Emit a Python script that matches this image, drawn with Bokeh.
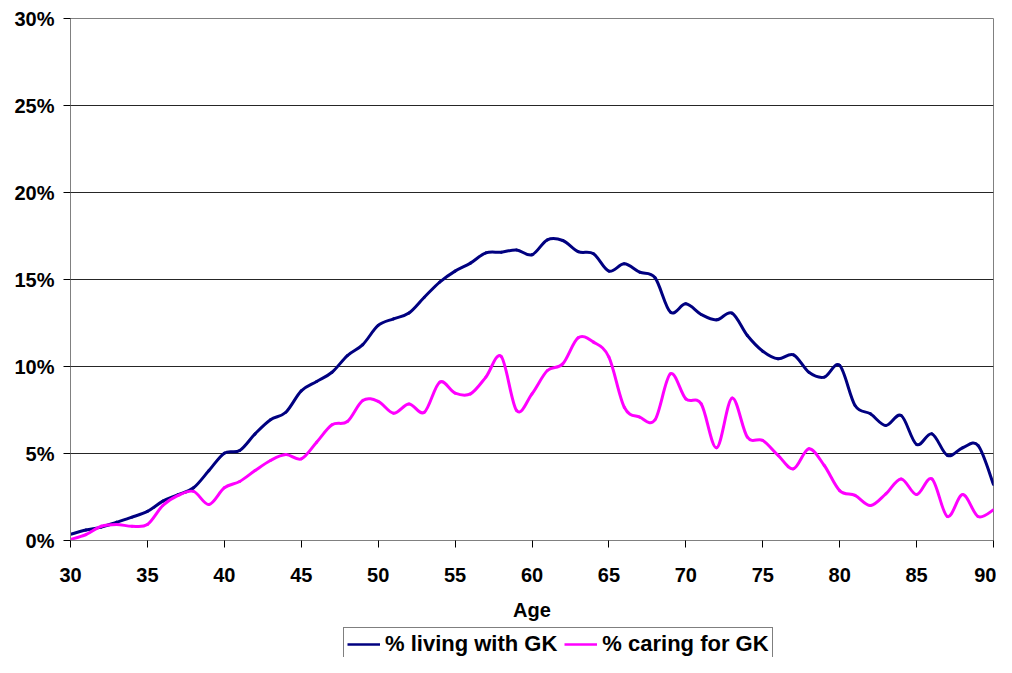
from bokeh.plotting import figure
from bokeh.layouts import column
from bokeh.models import Legend, LegendItem, NumeralTickFormatter, FixedTicker, Range1d
from bokeh.embed import file_html
from bokeh.resources import INLINE

ages = list(range(30, 91))

living_with_gk = [
    0.35, 0.60, 0.77, 1.05, 1.34, 1.67, 2.26, 2.63, 3.03, 4.02,
    5.02, 5.17, 6.13, 6.94, 7.37, 8.60, 9.14, 9.67, 10.63, 11.26,
    12.36, 12.74, 13.07, 13.98, 14.85, 15.48, 15.94, 16.53, 16.57, 16.70,
    16.42, 17.28, 17.24, 16.60, 16.48, 15.48, 15.90, 15.42, 15.10, 13.12,
    13.60, 12.99, 12.68, 13.07, 11.78, 10.88, 10.44, 10.67, 9.67, 9.39,
    10.06, 7.76, 7.28, 6.61, 7.18, 5.52, 6.13, 4.89, 5.33, 5.46,
    3.22,
]

caring_for_gk = [
    0.06, 0.34, 0.82, 0.92, 0.82, 0.92, 2.01, 2.59, 2.82, 2.07,
    3.03, 3.39, 4.02, 4.60, 4.94, 4.69, 5.65, 6.65, 6.84, 8.05,
    8.00, 7.32, 7.85, 7.37, 9.10, 8.47, 8.43, 9.39, 10.57, 7.47,
    8.43, 9.77, 10.15, 11.65, 11.40, 10.54, 7.66, 7.09, 6.94, 9.58,
    8.14, 7.85, 5.33, 8.18, 5.94, 5.75, 4.89, 4.12, 5.27, 4.31,
    2.87, 2.59, 2.01, 2.68, 3.54, 2.64, 3.54, 1.38, 2.64, 1.38,
    1.76,
]

x_ticks = [30, 35, 40, 45, 50, 55, 60, 65, 70, 75, 80, 85, 90]
y_ticks = [0.0, 0.05, 0.10, 0.15, 0.20, 0.25, 0.30]

series_names = ["% living with GK", "% caring for GK"]
series_colors = ["#000080", "#FF00FF"]

FONT = "Liberation Sans"

p = figure(width=996, height=626, output_backend="svg", toolbar_location=None,
           x_range=Range1d(30, 90), y_range=Range1d(0, 0.30),
           min_border_left=70, min_border_right=3, min_border_top=18,
           min_border_bottom=86)


def smooth_segments(xs, ys):
    # Excel-style smoothed line: cubic Bezier segments through the data points
    n = len(xs)
    seg = dict(x0=[], y0=[], x1=[], y1=[], cx0=[], cy0=[], cx1=[], cy1=[])
    for i in range(n - 1):
        xm, ym = (xs[i - 1], ys[i - 1]) if i > 0 else (xs[i], ys[i])
        xp, yp = (xs[i + 2], ys[i + 2]) if i + 2 < n else (xs[i + 1], ys[i + 1])
        seg["x0"].append(xs[i]); seg["y0"].append(ys[i])
        seg["x1"].append(xs[i + 1]); seg["y1"].append(ys[i + 1])
        seg["cx0"].append(xs[i] + (xs[i + 1] - xm) / 6)
        seg["cy0"].append(ys[i] + (ys[i + 1] - ym) / 6)
        seg["cx1"].append(xs[i + 1] - (xp - xs[i]) / 6)
        seg["cy1"].append(ys[i + 1] - (yp - ys[i]) / 6)
    return seg


series_values = [living_with_gk, caring_for_gk]

for vals, color in zip(series_values, series_colors):
    frac = [v / 100 for v in vals]
    p.bezier(source=smooth_segments(ages, frac), x0="x0", y0="y0", x1="x1", y1="y1",
             cx0="cx0", cy0="cy0", cx1="cx1", cy1="cy1",
             line_color=color, line_width=3, line_cap="round")

p.outline_line_color = "#808080"
p.outline_line_width = 1
p.background_fill_color = "white"
p.border_fill_color = "white"

p.xgrid.grid_line_color = None
p.ygrid.grid_line_color = "#000000"
p.ygrid.grid_line_alpha = 0.85
p.ygrid.grid_line_width = 1

p.xaxis.ticker = FixedTicker(ticks=x_ticks)
p.yaxis.ticker = FixedTicker(ticks=y_ticks)
p.yaxis.formatter = NumeralTickFormatter(format="0%")

for ax in (p.xaxis[0], p.yaxis[0]):
    ax.axis_line_color = "#808080"
    ax.major_tick_line_color = "#000000"
    ax.major_tick_in = 0
    ax.major_tick_out = 7
    ax.minor_tick_line_color = None
    ax.major_label_text_font = FONT
    ax.major_label_text_font_style = "bold"
    ax.major_label_text_font_size = "20px"
    ax.major_label_text_color = "#000000"

p.yaxis.major_label_standoff = 9
p.xaxis.major_label_standoff = 20
p.xaxis.axis_label = "Age"
p.xaxis.axis_label_text_font = FONT
p.xaxis.axis_label_text_font_style = "bold"
p.xaxis.axis_label_text_font_size = "20px"
p.xaxis.axis_label_text_color = "#000000"
p.xaxis.axis_label_standoff = 14

# legend strip below the chart (series drawn out of view, only the legend shows)
leg_fig = figure(width=996, height=31, output_backend="svg", toolbar_location=None,
                 x_range=Range1d(0, 1), y_range=Range1d(0, 1),
                 min_border_left=0, min_border_right=0, min_border_top=0,
                 min_border_bottom=0)
leg_fig.axis.visible = False
leg_fig.grid.visible = False
leg_fig.outline_line_color = None
leg_fig.background_fill_color = "white"
leg_fig.border_fill_color = "white"

legend_renderers = [leg_fig.line(ages, vals, line_color=c, line_width=2.5)
                    for vals, c in zip(series_values, series_colors)]

legend = Legend(items=[LegendItem(label=series_names[0], renderers=[legend_renderers[0]]),
                       LegendItem(label=series_names[1], renderers=[legend_renderers[1]])],
                orientation="horizontal", location=(273, -4))
legend.label_text_font = FONT
legend.label_text_font_style = "bold"
legend.label_text_font_size = "22px"
legend.label_text_color = "#000000"
legend.label_standoff = 5
legend.glyph_width = 33
legend.spacing = 7
legend.padding = 3
legend.margin = 0
legend.label_height = 20
legend.glyph_height = 20
legend.border_line_color = "#000000"
legend.border_line_width = 1
legend.background_fill_alpha = 1
leg_fig.add_layout(legend, "center")

layout = column(p, leg_fig, spacing=0)

open("out.html", "w").write(file_html(layout, INLINE))
